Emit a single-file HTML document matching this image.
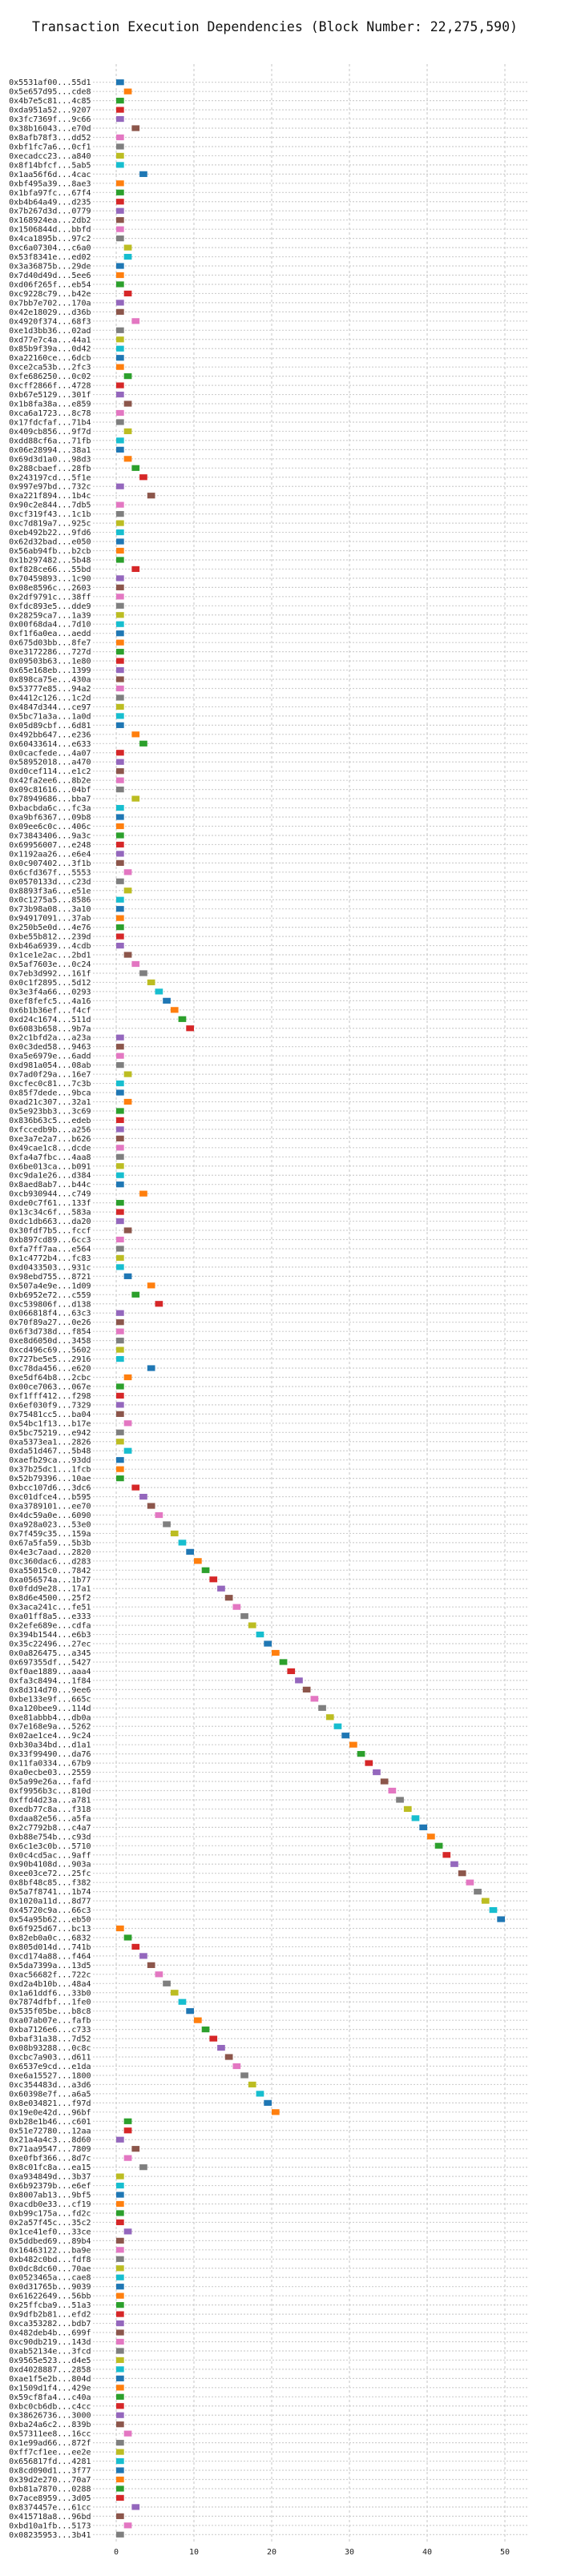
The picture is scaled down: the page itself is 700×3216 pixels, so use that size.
<!DOCTYPE html>
<html><head><meta charset="utf-8"><style>
html,body{margin:0;padding:0;background:#fff;}
svg{display:block;font-family:"DejaVu Sans Mono","Liberation Mono",monospace;}
</style></head><body>
<svg id="chart" width="700" height="3216" viewBox="0 0 700 3216" xmlns="http://www.w3.org/2000/svg">
<rect width="700" height="3216" fill="#fff"/>
<text x="343" y="39" font-size="16.5" text-anchor="middle" fill="#111">Transaction Execution Dependencies (Block Number: 22,275,590)</text>
<g id="grid"></g><g id="bars"></g><g id="labels"></g><g id="xticks"></g>
</svg>
<script>
const txLabels = ["0x5531af00...55d1","0x5e657d95...cde8","0x4b7e5c81...4c85","0xda951a52...9207","0x3fc7369f...9c66","0x38b16043...e70d","0x8afb78f3...dd52","0xbf1fc7a6...0cf1","0xecadcc23...a840","0x8f14bfcf...5ab5","0x1aa56f6d...4cac","0xbf495a39...8ae3","0x1bfa97fc...67f4","0xb4b64a49...d235","0x7b267d3d...0779","0x168924ea...2db2","0x1506844d...bbfd","0x4ca1895b...97c2","0xc6a07304...c6a0","0x53f8341e...ed02","0x3a36875b...29de","0x7d40d49d...5ee6","0xd06f265f...eb54","0xc9228c79...b42e","0x7bb7e702...170a","0x42e18029...d36b","0x4920f374...68f3","0xe1d3bb36...02ad","0xd77e7c4a...44a1","0x85b9f39a...0d42","0xa22160ce...6dcb","0xce2ca53b...2fc3","0xfe686250...0c02",
"0xcff2866f...4728","0xb67e5129...301f","0x1b8fa38a...e859","0xca6a1723...8c78","0x17fdcfaf...71b4","0x409cb856...9f7d","0xdd88cf6a...71fb","0x06e28994...38a1","0x69d3d1a0...98d3","0x288cbaef...28fb","0x243197cd...5f1e","0x997e97bd...732c","0xa221f894...1b4c","0x90c2e844...7db5","0xcf319f43...1c1b","0xc7d819a7...925c","0xeb492b22...9fd6","0x62d32bad...e050","0x56ab94fb...b2cb","0x1b297482...5b48","0xf828ce66...55bd","0x70459893...1c90","0x08e8596c...2603","0x2df9791c...38ff","0xfdc893e5...dde9","0x28259ca7...1a39","0x00f68da4...7d10","0xf1f6a0ea...aedd","0x675d03bb...8fe7","0xe3172286...727d","0x09503b63...1e80","0x65e168eb...1399","0x898ca75e...430a","0x53777e85...94a2",
"0x4412c126...1c2d","0x4847d344...ce97","0x5bc71a3a...1a0d","0x05d89cbf...6d81","0x492bb647...e236","0x60433614...e633","0x0cacfede...4a07","0x58952018...a470","0xd0cef114...e1c2","0x42fa2ee6...8b2e","0x09c81616...04bf","0x78949686...bba7","0xbacbda6c...fc3a","0xa9bf6367...09b8","0x09ee6c0c...406c","0x73843406...9a3c","0x69956007...e248","0x1192aa26...e6e4","0x0c907402...3f1b","0x6cfd367f...5553","0x0570133d...c23d","0x8893f3a6...e51e","0x0c1275a5...8586","0x73b98a08...3a10","0x94917091...37ab","0x250b5e0d...4e76","0xbe55b812...239d","0xb46a6939...4cdb","0x1ce1e2ac...2bd1","0x5af7603e...0c24","0x7eb3d992...161f","0x0c1f2895...5d12","0x3e3f4a66...0293","0xef8fefc5...4a16",
"0x6b1b36ef...f4cf","0xd24c1674...511d","0x6083b658...9b7a","0x2c1bfd2a...a23a","0x0c3ded58...9463","0xa5e6979e...6add","0xd981a054...08ab","0x7ad0f29a...16e7","0xcfec0c81...7c3b","0x85f7dede...9bca","0xad21c307...32a1","0x5e923bb3...3c69","0x836b63c5...edeb","0xfccedb9b...a256","0xe3a7e2a7...b626","0x49cae1c8...dcde","0xfa4a7fbc...4aa8","0x6be013ca...b091","0xc9da1e26...d384","0x8aed8ab7...b44c","0xcb930944...c749","0xde0c7f61...133f","0x13c34c6f...583a","0xdc1db663...da20","0x30fdf7b5...fccf","0xb897cd89...6cc3","0xfa7ff7aa...e564","0x1c4772b4...fc83","0xd0433503...931c","0x98ebd755...8721","0x507a4e9e...1d09","0xb6952e72...c559","0xc539806f...d138",
"0x066818f4...63c3","0x70f89a27...0e26","0x6f3d738d...f854","0xe8d6050d...3458","0xcd496c69...5602","0x727be5e5...2916","0xc78da456...e620","0xe5df64b8...2cbc","0x00ce7063...067e","0xf1fff412...f298","0x6ef030f9...7329","0x75481cc5...ba04","0x54bc1f13...b17e","0x5bc75219...e942","0xa5373ea1...2826","0xda51d467...5b48","0xaefb29ca...93dd","0x37b25dc1...1fcb","0x52b79396...10ae","0xbcc107d6...3dc6","0xc01dfce4...b595","0xa3789101...ee70","0x4dc59a0e...6090","0xa928a023...53e0","0x7f459c35...159a","0x67a5fa59...5b3b","0x4e3c7aad...2820","0xc360dac6...d283","0xa55015c0...7842","0xa056574a...1b77","0x0fdd9e28...17a1","0x8d6e4500...25f2","0x3aca241c...fe51","0xa01ff8a5...e333",
"0x2efe689e...cdfa","0x394b1544...e6b3","0x35c22496...27ec","0x0a826475...a345","0x697355df...5427","0xf0ae1889...aaa4","0xfa3c8494...1f84","0x8d314d70...9ee6","0xbe133e9f...665c","0xa120bee9...114d","0xe81abbb4...db0a","0x7e168e9a...5262","0x02ae1ce4...9c24","0xb30a34bd...d1a1","0x33f99490...da76","0x11fa0334...67b9","0xa0ecbe03...2559","0x5a99e26a...fafd","0xf9956b3c...810d","0xffd4d23a...a781","0xedb77c8a...f318","0xdaa82e56...a5fa","0x2c7792b8...c4a7","0xb88e754b...c93d","0x6c1e3c0b...5710","0x0c4cd5ac...9aff","0x90b4108d...903a","0xee03ce72...25fc","0x8bf48c85...f382","0x5a7f8741...1b74","0x1020a11d...8d77","0x45720c9a...66c3","0x54a95b62...eb50","0x6f925d67...bc13",
"0x82eb0a0c...6832","0x805d014d...741b","0xcd174a88...f464","0x5da7399a...13d5","0xac56682f...722c","0xd2a4b10b...48a4","0x1a61ddf6...33b0","0x7874dfbf...1fe0","0x535f05be...b8c8","0xa07ab07e...fafb","0xba7126e6...c733","0xbaf31a38...7d52","0x08b93288...0c8c","0xcbc7a903...d611","0x6537e9cd...e1da","0xe6a15527...1800","0xc354483d...a3d6","0x60398e7f...a6a5","0x8e034821...f97d","0x19e0e42d...96bf","0xb28e1b46...c601","0x51e72780...12aa","0x21a4a4c3...8d60","0x71aa9547...7809","0xe0fbf366...8d7c","0x8c01fc8a...ea15","0xa934849d...3b37","0x6b92379b...e6ef","0x8007ab13...9bf5","0xacdb0e33...cf19","0xb99c175a...fd2c","0x2a57f45c...35c2","0x1ce41ef0...33ce",
"0x5ddbed69...89b4","0x16463122...ba9e","0xb482c0bd...fdf8","0x0dc8dc60...70ae","0x0523465a...cae8","0x0d31765b...9039","0x61622649...56bb","0x25ffcba9...51a3","0x9dfb2b81...efd2","0xca353282...bdb7","0x482deb4b...699f","0xc90db219...143d","0xab52134e...3fcd","0x9565e523...d4e5","0xd4028887...2858","0xae1f5e2b...804d","0x1509d1f4...429e","0x59cf8fa4...c40a","0xbc0cb6db...c4cc","0x38626736...3000","0xba24a6c2...839b","0x57311ee8...16cc","0x1e99ad66...872f","0xff7cf1ee...ee2e","0x656817fd...4281","0x8cd090d1...3f77","0x39d2e270...70a7","0xb81a7870...0288","0x7ace8959...3d05","0x8374457e...61cc","0x415718a8...96bd","0xbd10a1fb...5173","0x08235953...3b41"];
const startValues = [0,1,0,0,0,2,0,0,0,0,3,0,0,0,0,0,0,0,1,1,0,0,0,1,0,0,2,0,0,0,0,0,1,
0,0,1,0,0,1,0,0,1,2,3,0,4,0,0,0,0,0,0,0,2,0,0,0,0,0,0,0,0,0,0,0,0,0,
0,0,0,0,2,3,0,0,0,0,0,2,0,0,0,0,0,0,0,1,0,1,0,0,0,0,0,0,1,2,3,4,5,6,
7,8,9,0,0,0,0,1,0,0,1,0,0,0,0,0,0,0,0,0,3,0,0,0,1,0,0,0,0,1,4,2,5,
0,0,0,0,0,0,4,1,0,0,0,0,1,0,0,1,0,0,0,2,3,4,5,6,7,8,9,10,11,12,13,14,15,16,
17,18,19,20,21,22,23,24,25,26,27,28,29,30,31,32,33,34,35,36,37,38,39,40,41,42,43,44,45,46,47,48,49,0,
1,2,3,4,5,6,7,8,9,10,11,12,13,14,15,16,17,18,19,20,1,1,0,2,1,3,0,0,0,0,0,0,1,
0,0,0,0,0,0,0,0,0,0,0,0,0,0,0,0,0,0,0,0,0,1,0,0,0,0,0,0,0,2,0,1,0];
const xTickValues = [0,10,20,30,40,50];
const palette = ["#1f77b4","#ff7f0e","#2ca02c","#d62728","#9467bd","#8c564b","#e377c2","#7f7f7f","#bcbd22","#17becf"];

const NS = "http://www.w3.org/2000/svg";
const plotL = 116, plotR = 658, plotT = 80, plotB = 3172;
const x0 = 145, ppu = 9.7;
const row0 = 102.7, row1 = 3164.3;
function xs(v){ return x0 + v*ppu; }
function ys(i){ return row0 + i*(row1-row0)/(txLabels.length-1); }
function mk(tag, attrs, parent){ const e=document.createElementNS(NS,tag); for(const k in attrs) e.setAttribute(k,attrs[k]); parent.appendChild(e); return e; }

const grid = document.getElementById('grid'), bars = document.getElementById('bars'), labels = document.getElementById('labels'), xt = document.getElementById('xticks');

xTickValues.forEach(v => {
  const l = mk('line',{x1:xs(v),x2:xs(v),y1:plotT,y2:plotB+4,stroke:'#cfcfcf','stroke-width':1.2,'stroke-dasharray':'3,3'},grid);
  
  
  const t = mk('text',{x:xs(v),y:3189,'font-size':10,'text-anchor':'middle',fill:'#222'},xt);
  t.textContent = v;
  
  
});

txLabels.forEach((lab,i) => {
  const y = ys(i);
  const g = mk('line',{x1:plotL,x2:plotR,y1:y,y2:y,stroke:'#cfcfcf','stroke-width':1.2,'stroke-dasharray':'2,2'},grid);
  
  
  const t = mk('text',{x:113.5,y:y+3.5,'font-size':10,'text-anchor':'end',fill:'#222'},labels);
  t.textContent = lab;
  
  
  const v = startValues[i];
  const b = mk('rect',{x:xs(v),y:y-3.6,width:ppu,height:7.2,fill:palette[i%10]},bars);
  
  
});
</script>
</body></html>
